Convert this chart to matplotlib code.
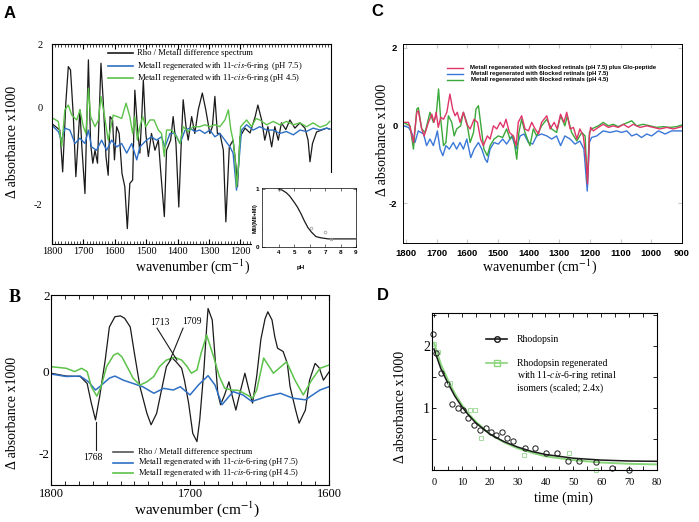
import matplotlib
matplotlib.use("Agg")
import matplotlib.pyplot as plt
from matplotlib.lines import Line2D
from matplotlib.patches import Rectangle
from matplotlib.ticker import MultipleLocator

plt.rcParams["font.family"] = ["Liberation Serif", "DejaVu Serif"]
plt.rcParams["mathtext.fontset"] = "stix"
plt.rcParams["axes.unicode_minus"] = False

# ---------------- panel A : full spectra ----------------
A_RHO_WN = [1796, 1775, 1766, 1756, 1748, 1741, 1732, 1724, 1711, 1705, 1695, 1684, 1677, 1670,
            1663, 1655, 1644, 1637, 1628, 1621, 1615, 1607, 1601, 1594, 1586, 1577, 1568, 1560,
            1552, 1543, 1536, 1528, 1520, 1514, 1509, 1501, 1493, 1483, 1472, 1461, 1454, 1442,
            1435, 1422, 1414, 1405, 1396, 1387, 1382, 1373, 1366, 1355, 1345, 1334, 1321, 1310,
            1297, 1289, 1281, 1273, 1265, 1254, 1246, 1235, 1223, 1214, 1209, 1201, 1185, 1169,
            1153, 1144, 1132, 1122, 1112, 1100, 1090, 1079, 1069, 1055, 1042, 1026, 1010, 994,
            984, 978, 970, 957, 941, 925, 915]
A_RHO = [-0.35, -0.46, -1.33, 0.10, 0.86, 0.79, -0.18, -1.43, -0.04, -0.80, -1.78, 1.00, -0.74, -1.15,
         -0.88, -1.15, 0.93, 0.17, -1.01, -1.40, -0.18, -0.25, -1.08, -0.39, -0.53, -1.36, -1.64, -2.51,
         -1.57, -1.50, 0.37, -0.39, -0.94, -0.18, 0.58, -0.53, -1.01, -0.53, -0.88, -0.67, -1.29, -2.26,
         -0.88, -0.67, -0.18, -0.74, -2.06, -0.53, 0.17, -0.39, -0.67, -0.18, -0.53, -0.04, 0.31, -0.04,
         -0.53, -0.39, 0.24, -0.53, -0.53, -0.88, -2.37, -0.81, -0.67, -1.20, -1.64, -0.60, -0.42, -0.52,
         -0.19, 0.06, -0.25, -0.67, -0.39, -0.81, -0.39, -0.67, -0.31, -0.45, -0.25, -0.42, -0.31, -0.42,
         -0.67, -1.12, -0.74, -0.50, -0.46, -0.42, -0.44]

A_BLUE_WN = [1796, 1780, 1769, 1759, 1743, 1727, 1711, 1695, 1684, 1674, 1658, 1642, 1626, 1610,
             1594, 1578, 1562, 1546, 1530, 1520, 1499, 1483, 1467, 1451, 1440, 1424, 1408, 1392,
             1376, 1361, 1345, 1329, 1313, 1297, 1281, 1265, 1249, 1233, 1223, 1212, 1203, 1196,
             1180, 1159, 1138, 1116, 1095, 1074, 1053, 1031, 1010, 989, 968, 946, 925, 915]
A_BLUE = [-0.39, -0.49, -0.67, -0.42, -0.46, -0.74, -0.63, -0.74, -0.46, -0.81, -0.88, -0.67, -0.88, -0.67,
          -0.81, -0.74, -0.94, -0.74, -1.08, -0.81, -0.67, -0.60, -0.67, -0.60, -0.81, -0.53, -0.53, -0.74,
          -0.46, -0.42, -0.49, -0.46, -0.53, -0.46, -0.60, -0.53, -0.67, -0.81, -0.94, -1.71, -1.01, -0.46,
          -0.35, -0.46, -0.39, -0.46, -0.46, -0.53, -0.49, -0.56, -0.46, -0.49, -0.42, -0.46, -0.42, -0.44]

A_GREEN_WN = [1796, 1780, 1769, 1759, 1748, 1737, 1721, 1711, 1700, 1692, 1684, 1677, 1663, 1652,
              1644, 1634, 1621, 1605, 1592, 1578, 1564, 1552, 1543, 1536, 1528, 1520, 1511, 1501,
              1488, 1475, 1461, 1451, 1442, 1435, 1419, 1403, 1392, 1382, 1366, 1350, 1329, 1313,
              1297, 1281, 1265, 1249, 1238, 1230, 1223, 1217, 1212, 1206, 1199, 1180, 1164, 1150,
              1138, 1116, 1095, 1074, 1053, 1031, 1010, 989, 968, 946, 925, 915]
A_GREEN = [-0.22, -0.28, -0.80, -0.04, 0.06, -0.15, -0.25, -0.04, -0.39, -0.53, 0.41, -0.18, -0.39, -0.25,
           0.24, -0.11, -0.67, -0.15, -0.18, -0.22, 0.10, -0.18, -0.53, -0.18, -0.67, -0.39, -0.18, -0.39,
           -0.25, -0.25, -0.46, -0.53, -1.01, -0.46, -0.46, -0.60, -0.74, -0.39, -0.49, -0.39, -0.39, -0.35,
           -0.39, -0.35, -0.39, -0.25, -0.04, -0.46, -0.67, -1.01, -1.64, -1.22, -0.39, -0.25, -0.39, -0.22,
           -0.25, -0.35, -0.28, -0.35, -0.28, -0.35, -0.31, -0.39, -0.31, -0.40, -0.35, -0.28]

# inset: pH dependence
INSET_PH = [4.0, 6.08, 7.0, 7.4]
INSET_FRAC = [1.0, 0.33, 0.26, 0.13]
INSET_FIT_PH = [4.0, 4.2, 4.47, 4.7, 5.0, 5.2, 5.44, 5.65, 5.87, 6.1, 6.4, 6.7, 7.2, 8.0, 9.0]
INSET_FIT = [1.0, 0.985, 0.94, 0.88, 0.77, 0.69, 0.57, 0.45, 0.34, 0.26, 0.18, 0.16, 0.14, 0.14, 0.14]

# ---------------- panel B : 1800-1600 zoom ----------------
B_RHO_WN = [1800, 1789, 1779, 1774, 1771, 1768, 1765, 1761, 1758, 1754, 1750, 1747, 1743, 1740,
            1736, 1731, 1728, 1724, 1720, 1717, 1713, 1710, 1706, 1704, 1701, 1698, 1695, 1693,
            1690, 1688, 1687, 1684, 1682, 1680, 1678, 1675, 1672, 1669.5, 1667, 1664, 1660.5,
            1657.5, 1655, 1652, 1649, 1646, 1644, 1641, 1639, 1637, 1633, 1630, 1628, 1624,
            1621.5, 1617, 1614, 1610, 1607, 1604, 1600]
B_RHO = [-0.03, -0.10, -0.11, -0.28, -0.76, -1.17, -0.60, 0.29, 1.10, 1.35, 1.37, 1.31, 1.10, 0.46,
         -0.36, -1.01, -1.29, -1.01, -0.36, 0.13, 0.35, 0.25, 0.09, -0.20, -0.76, -1.50, -1.70, -1.17,
         0.05, 1.10, 1.55, 1.27, 0.37, -0.52, -0.80, -0.55, -0.24, -0.60, -0.93, -0.50, -0.03,
         -0.45, -0.76, -0.10, 0.80, 1.30, 1.47, 1.27, 0.86, 0.58, 0.50, 0.21, -0.36, -0.93,
         -1.25, -0.93, -0.20, 0.21, 0.10, -0.20, 0.00]

B_BLUE_WN = [1800, 1789, 1779, 1773, 1768, 1765, 1758, 1754, 1748, 1741, 1734, 1726, 1719, 1712,
             1707, 1700, 1694, 1687, 1682, 1677, 1669, 1662, 1655.5, 1645, 1635, 1626, 1617,
             1606.5, 1600]
B_BLUE = [-0.05, -0.11, -0.10, -0.24, -0.44, -0.36, -0.15, -0.10, -0.20, -0.28, -0.36, -0.52, -0.40, -0.44,
          -0.36, -0.56, -0.32, -0.09, -0.32, -0.80, -0.48, -0.56, -0.72, -0.60, -0.52, -0.64, -0.68,
          -0.44, -0.36]

B_GREEN_WN = [1800, 1789, 1783, 1778, 1774, 1771, 1767, 1764, 1760, 1755, 1752, 1749, 1744, 1741,
              1736, 1731, 1726, 1722, 1717, 1711, 1706, 1702, 1699, 1695, 1692, 1688, 1683, 1679,
              1675, 1670, 1665, 1659, 1655, 1652, 1647, 1640, 1630.5, 1624.5, 1618.5, 1612.5,
              1606.5, 1600]
B_GREEN = [0.13, 0.09, 0.01, 0.09, 0.01, -0.36, -0.59, -0.36, 0.13, 0.41, 0.46, 0.37, 0.05, -0.15,
           -0.32, -0.24, -0.11, 0.13, 0.29, 0.36, 0.29, 0.13, -0.03, 0.05, 0.46, 0.90, 0.37, -0.10,
           -0.40, -0.44, -0.45, -0.56, -0.64, -0.44, 0.34, -0.03, 0.25, -0.20, -0.56, -0.20,
           0.09, 0.17]

B_MARKS = ["1768", "1713", "1709"]

# ---------------- panel C : 6-locked retinals ----------------
C_RED_WN = [1809, 1792, 1787, 1776, 1765, 1760, 1749, 1741, 1727, 1716, 1709, 1702, 1695, 1687,
            1678, 1667, 1657, 1648, 1640, 1633, 1624, 1613, 1602, 1591, 1578, 1567, 1557, 1548,
            1535, 1526, 1515, 1504, 1493, 1483, 1474, 1463, 1450, 1441, 1434, 1423, 1412, 1401,
            1390, 1379, 1368, 1358, 1341, 1330, 1317, 1307, 1296, 1285, 1276, 1265, 1254, 1243,
            1233, 1222, 1213, 1208, 1202, 1198, 1189, 1173, 1157, 1140, 1124, 1108, 1091, 1075,
            1059, 1037, 1015, 993, 972, 950, 928, 901]
C_RED = [0.08, 0.08, -0.05, -0.44, 0.34, 0.38, -0.09, -0.27, 0.08, 0.29, 0.08, 0.34, -0.05, 0.21,
         0.16, 0.34, 0.81, 0.42, 0.25, 0.34, 0.08, 0.34, 0.03, -0.09, 0.16, 0.08, -0.35, -0.52,
         -0.27, -0.35, -0.01, -0.09, 0.08, -0.05, 0.16, -0.18, -0.27, -0.52, 0.08, 0.25, -0.09, -0.14,
         0.08, -0.09, -0.22, 0.08, 0.25, -0.09, 0.08, -0.09, 0.29, 0.08, 0.34, -0.09, -0.05, -0.35,
         -0.09, -0.27, -0.87, -1.51, -0.27, -0.05, -0.14, -0.05, 0.03, -0.05, -0.01, -0.05, 0.03, -0.05,
         0.03, -0.05, -0.01, -0.05, -0.09, -0.05, -0.09, -0.03]

C_BLUE_WN = [1809, 1792, 1782, 1771, 1760, 1743, 1733, 1722, 1711, 1702, 1698, 1689, 1680, 1670,
             1659, 1646, 1635, 1624, 1613, 1602, 1589, 1578, 1564, 1553, 1542, 1535, 1526, 1513,
             1499, 1485, 1472, 1455, 1441, 1428, 1415, 1401, 1387, 1374, 1358, 1341, 1325, 1309,
             1296, 1282, 1265, 1249, 1233, 1220, 1209, 1202, 1195, 1178, 1157, 1135, 1113, 1097,
             1080, 1064, 1048, 1032, 1015, 999, 977, 955, 934, 901]
C_BLUE = [-0.01, -0.05, -0.18, -0.44, -0.14, -0.22, -0.52, -0.35, -0.52, -0.27, -0.14, -0.61, -0.78, -0.52,
          -0.61, -0.44, -0.61, -0.44, -0.61, -0.35, -0.83, -0.61, -0.44, -0.61, -0.87, -0.95, -0.61, -0.44,
          -0.48, -0.35, -0.48, -0.27, -0.61, -0.27, -0.22, -0.44, -0.48, -0.27, -0.22, -0.27, -0.35, -0.27,
          -0.52, -0.27, -0.35, -0.48, -0.40, -0.61, -1.69, -0.44, -0.31, -0.27, -0.14, -0.18, -0.14, -0.18,
          -0.14, -0.27, -0.22, -0.31, -0.22, -0.27, -0.14, -0.22, -0.14, -0.14]

C_GREEN_WN = [1809, 1787, 1776, 1765, 1760, 1749, 1738, 1722, 1711, 1702, 1694, 1687, 1678, 1670,
              1662, 1651, 1643, 1635, 1622, 1613, 1602, 1591, 1580, 1572, 1564, 1553, 1546, 1535,
              1526, 1513, 1499, 1485, 1472, 1461, 1450, 1439, 1432, 1423, 1412, 1396, 1385, 1374,
              1358, 1341, 1325, 1309, 1296, 1282, 1274, 1260, 1243, 1227, 1216, 1209, 1202, 1195,
              1173, 1157, 1140, 1124, 1108, 1091, 1064, 1048, 1026, 1004, 983, 961, 939, 917, 901]
C_GREEN = [0.08, -0.01, -0.61, 0.42, 0.46, -0.09, -0.18, 0.34, 0.08, 0.25, 0.94, 0.16, -0.52, -0.44,
           0.25, 0.08, -0.27, -0.09, -0.01, 0.34, 0.08, -0.44, -0.18, 0.42, 0.51, -0.18, -0.61, -0.78,
           -0.52, -0.35, -0.27, -0.31, -0.09, -0.35, -0.27, -0.87, -0.18, 0.16, -0.18, -0.52, -0.09, -0.27,
           -0.01, 0.16, -0.09, -0.18, 0.25, -0.01, 0.25, -0.18, -0.40, -0.18, -0.27, -1.47, -0.18, -0.09,
           -0.01, 0.08, -0.01, 0.03, -0.03, 0.03, 0.12, -0.01, 0.03, -0.01, -0.05, -0.03, -0.05, -0.03, 0.01]

# ---------------- panel D : decay kinetics ----------------
D_RHO_T = [-0.4, 0.6, 2.4, 4.6, 6.5, 8.5, 10.5, 12.3, 14.5, 16.5, 18.6, 20.4, 22.4, 24.3, 26.3,
           28.3, 32.5, 36.1, 40.2, 44.1, 48.2, 52.0, 58.1, 64.0, 69.9]
D_RHO = [2.19, 1.89, 1.57, 1.38, 1.06, 1.00, 0.96, 0.84, 0.73, 0.65, 0.67, 0.62, 0.56, 0.62, 0.51,
         0.46, 0.36, 0.35, 0.27, 0.27, 0.15, 0.15, 0.13, 0.04, 0.0]
D_RING_T = [0.0, 1.5, 5.7, 13.0, 14.6, 16.7, 32.4, 48.4, 58.0]
D_RING = [2.03, 1.90, 1.41, 0.97, 0.97, 0.52, 0.24, 0.28, 0.0]
D_FIT_T = [0, 2.5, 5, 7.5, 10, 12.5, 15, 20, 25, 30, 35, 40, 45, 50, 60, 70, 80]
D_FIT_RHO = [1.95, 1.63, 1.40, 1.19, 1.02, 0.88, 0.76, 0.58, 0.46, 0.37, 0.30, 0.25, 0.22, 0.19, 0.16, 0.145, 0.14]
D_FIT_RING = [2.05, 1.70, 1.45, 1.23, 1.05, 0.90, 0.78, 0.58, 0.45, 0.35, 0.28, 0.22, 0.19, 0.16, 0.12, 0.10, 0.09]

W, H = 699, 522
SANS = ["Liberation Sans", "DejaVu Sans"]
BLACK = "#1a1a1a"
BLUE = "#2d6fc4"
GREEN = "#5cc24a"


def fx(x):
    return x / W


def fy(y):
    return 1 - y / H


def box(l, t, r, b):
    return [l / W, 1 - b / H, (r - l) / W, (b - t) / H]


def key_row(fig, x0, x1, y, color, text, tx, size, lw=1.2, marker=None, mcolor=None, **kw):
    fig.add_artist(Line2D([fx(x0), fx((x0 + x1) / 2), fx(x1)], [fy(y)] * 3, color=color, lw=lw,
                          marker=marker, markevery=[1], mfc="none", mec=mcolor or color, ms=4))
    fig.text(fx(tx), fy(y), text, va="center", ha="left", fontsize=size, **kw)


fig = plt.figure(figsize=(W / 100, H / 100), dpi=100)

# ---- A ----
ax = fig.add_axes(box(52, 44, 331, 244))
ax.plot(A_RHO_WN, A_RHO, color=BLACK, lw=0.9)
ax.plot(A_BLUE_WN, A_BLUE, color=BLUE, lw=1.0)
ax.plot(A_GREEN_WN, A_GREEN, color=GREEN, lw=1.0)
ax.set_xlim(1800, 911)
ax.set_ylim(-2.83, 1.33)
ax.set_xticks(range(1800, 1199, -100))
ax.xaxis.set_minor_locator(MultipleLocator(10))
ax.set_yticks([1.33, 0, -2], ["2", "0", "-2"])
ax.tick_params(axis="x", which="both", direction="in", top=True, labelsize=7.5, pad=2)
ax.tick_params(axis="x", which="minor", length=2.5, width=0.5)
ax.tick_params(axis="y", direction="in", length=0, labelsize=7.5, pad=7)
for s in ax.spines.values():
    s.set_linewidth(0.8)

fig.add_artist(Rectangle((fx(252), fy(275)), fx(357) - fx(252), fy(173) - fy(275),
                         transform=fig.transFigure, facecolor="white", edgecolor="none", zorder=1))
axi = fig.add_axes(box(262, 188, 356, 247))
axi.set_zorder(2)
axi.plot(INSET_FIT_PH, INSET_FIT, color=BLACK, lw=0.9)
axi.plot(INSET_PH, INSET_FRAC, "o", ms=2, mfc="none", mec="#999999", mew=0.5)
axi.set_xlim(2.9, 9.0)
axi.set_ylim(0, 1.02)
axi.set_xticks(range(4, 10))
axi.set_yticks([0, 1])
axi.tick_params(direction="in", top=True, right=True, length=2, width=0.4, labelsize=4.5, pad=2)
for lab in axi.get_xticklabels() + axi.get_yticklabels():
    lab.set_family(SANS)
    lab.set_weight("bold")
for s in axi.spines.values():
    s.set_linewidth(0.5)
fig.text(fx(255), fy(218), "MII/(MII+MI)", rotation=90, ha="center", va="center",
         fontsize=4, family=SANS, weight="bold")
fig.text(fx(301), fy(267), "pH", ha="center", va="center", fontsize=4.5, family=SANS, weight="bold")

key_row(fig, 108, 133, 53, BLACK, "Rho / MetaII difference spectrum", 137, 6.2)
key_row(fig, 108, 133, 65.5, BLUE, "MetaII regenerated with 11-$\\it{cis}$-6-ring  (pH 7.5)", 137, 6.2)
key_row(fig, 108, 133, 77.5, GREEN, "MetaII regenerated with 11-$\\it{cis}$-6-ring (pH 4.5)", 137, 6.2)

fig.text(fx(13), fy(142), "Δ absorbance x1000", rotation=90, ha="center", va="center", fontsize=10)
fig.text(fx(193), fy(267), "wavenumber (cm$^{-1}$)", ha="center", va="center", fontsize=10)
fig.text(fx(10), fy(13), "A", ha="center", va="center", fontsize=12, family=SANS, weight="bold")

# ---- C ----
cx = fig.add_axes(box(403, 44, 682, 243))
cx.plot(C_BLUE_WN, C_BLUE, color="#3a78d8", lw=1.0)
cx.plot(C_GREEN_WN, C_GREEN, color="#3aa83a", lw=1.0)
cx.plot(C_RED_WN, C_RED, color="#e0356a", lw=1.0)
cx.set_xlim(1810, 900)
cx.set_ylim(-3.03, 2.1)
cx.set_xticks(range(1800, 899, -100))
cx.set_yticks([2, 0, -2])
cx.tick_params(direction="in", top=True, right=True, length=3, color="#c8c8c8",
               labelsize=6.8, pad=4)
for lab in cx.get_xticklabels() + cx.get_yticklabels():
    lab.set_family(SANS)
    lab.set_weight("bold")
for s in cx.spines.values():
    s.set_linewidth(0.7)
key_row(fig, 447, 463, 68, "#e0356a", "MetaII regenerated with 6locked retinals (pH 7.5) plus Glo-peptide",
        470, 4.3, lw=1.0, family=SANS, weight="bold")
key_row(fig, 447, 463, 74, "#3a78d8", "MetaII regenerated with 6locked retinals (pH 7.5)",
        471, 4.3, lw=1.0, family=SANS, weight="bold")
key_row(fig, 447, 463, 80, "#3aa83a", "MetaII regenerated with 6locked retinals (pH 4.5)",
        471, 4.3, lw=1.0, family=SANS, weight="bold")
fig.text(fx(382), fy(140), "Δ absorbance x1000", rotation=90, ha="center", va="center", fontsize=10)
fig.text(fx(540), fy(267), "wavenumber (cm$^{-1}$)", ha="center", va="center", fontsize=10)
fig.text(fx(377), fy(12), "C", ha="center", va="center", fontsize=12, family=SANS, weight="bold")

# ---- B ----
bx = fig.add_axes(box(51, 295, 329, 485))
bx.plot(B_RHO_WN, B_RHO, color=BLACK, lw=0.9)
bx.plot(B_BLUE_WN, B_BLUE, color=BLUE, lw=1.1)
bx.plot(B_GREEN_WN, B_GREEN, color=GREEN, lw=1.1)
bx.set_xlim(1800, 1600)
bx.set_ylim(-2.76, 1.88)
bx.set_xticks([1800, 1700, 1600])
bx.xaxis.set_minor_locator(MultipleLocator(10))
bx.set_yticks([1.88, 0, -2], ["2", "0", "-2"])
bx.tick_params(axis="x", which="both", direction="in", top=True, labelsize=9, pad=2.5)
bx.tick_params(axis="x", which="minor", length=3, width=0.6)
bx.tick_params(axis="y", direction="in", length=0, labelsize=9.5, pad=1)
for s in bx.spines.values():
    s.set_linewidth(0.8)
bx.plot([1767.6, 1767.6], [-1.22, -1.9], color=BLACK, lw=0.8)
bx.plot([1723.7, 1709.4], [1.07, 0.29], color=BLACK, lw=0.8)
bx.plot([1705.0, 1714.4], [1.07, 0.29], color=BLACK, lw=0.8)
bx.text(1769.8, -2.1, B_MARKS[0], ha="center", va="center", fontsize=7)
bx.text(1721.6, 1.22, B_MARKS[1], ha="center", va="center", fontsize=7)
bx.text(1698.6, 1.24, B_MARKS[2], ha="center", va="center", fontsize=7)
key_row(fig, 113, 133, 452, "#555555", "Rho / MetaII difference spectrum", 138, 6.1)
key_row(fig, 113, 133, 462.5, BLUE, "MetaII regenerated with 11-$\\it{cis}$-6-ring (pH 7.5)", 138, 6.1)
key_row(fig, 113, 133, 473, GREEN, "MetaII regenerated with 11-$\\it{cis}$-6-ring (pH 4.5)", 138, 6.1)
fig.text(fx(13), fy(413), "Δ absorbance x1000", rotation=90, ha="center", va="center", fontsize=10)
fig.text(fx(197), fy(509), "wavenumber (cm$^{-1}$)", ha="center", va="center", fontsize=11)
fig.text(fx(15), fy(297), "B", ha="center", va="center", fontsize=13, weight="bold")

# ---- D ----
dx = fig.add_axes(box(432, 313, 657, 470))
dx.plot(D_FIT_T, D_FIT_RING, color="#8ad67a", lw=1.4)
dx.plot(D_FIT_T, D_FIT_RHO, color=BLACK, lw=1.1)
dx.plot(D_RING_T, D_RING, "s", ms=3.5, mfc="none", mec="#a6dca0", mew=0.7, clip_on=False)
dx.plot(D_RHO_T, D_RHO, "o", ms=3.8, mfc="none", mec=BLACK, mew=0.7, clip_on=False)
dx.set_xlim(-0.7, 80)
dx.set_ylim(0, 2.53)
dx.set_xticks(range(0, 81, 10))
dx.xaxis.set_minor_locator(MultipleLocator(5))
dx.set_yticks([1, 2])
dx.yaxis.set_minor_locator(MultipleLocator(0.5))
dx.tick_params(which="both", direction="in", top=True, right=True, length=3, width=0.6)
dx.tick_params(axis="x", labelsize=7.5, pad=6)
dx.tick_params(axis="y", labelsize=10, pad=1.5)
for s in dx.spines.values():
    s.set_linewidth(0.8)
key_row(fig, 486, 507, 339, BLACK, "Rhodopsin", 517, 7, marker="o")
key_row(fig, 486, 507, 363, "#8ad67a", "Rhodopsin regenerated", 517, 7, marker="s")
fig.text(fx(517), fy(376), "with 11-$\\it{cis}$-6-ring retinal", va="center", fontsize=7)
fig.text(fx(517), fy(388), "isomers (scaled; 2.4x)", va="center", fontsize=7)
fig.text(fx(400), fy(407), "Δ absorbance x1000", rotation=90, ha="center", va="center", fontsize=10)
fig.text(fx(563), fy(498), "time (min)", ha="center", va="center", fontsize=10)
fig.text(fx(383), fy(295), "D", ha="center", va="center", fontsize=12, family=SANS, weight="bold")

fig.savefig("out.png", dpi=100)
